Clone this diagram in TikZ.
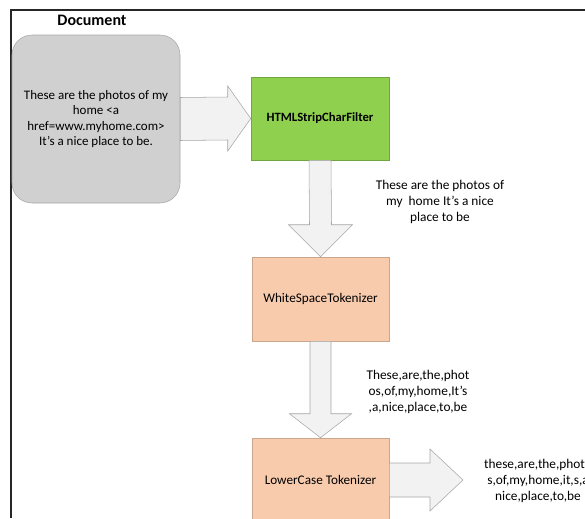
\documentclass[tikz,border=0pt]{standalone}
\usepackage{fontspec}
\setmainfont{Carlito}
\usetikzlibrary{calc}
\definecolor{docgray}{HTML}{D0D0D0}
\definecolor{docline}{HTML}{A8A8A8}
\definecolor{stripgreen}{HTML}{8FD14F}
\definecolor{stripline}{HTML}{6FA640}
\definecolor{tokpeach}{HTML}{F8CBAD}
\definecolor{tokline}{HTML}{C9A68C}
\definecolor{arrowfill}{HTML}{F2F2F2}
\definecolor{arrowline}{HTML}{A6A6A6}
\tikzset{
  docbox/.style={draw=docline, fill=docgray, rounded corners=15pt, minimum width=126pt, minimum height=126pt, align=center, font=\fontsize{9.75}{11.5}\selectfont},
  filterbox/.style={draw=stripline, fill=stripgreen, minimum width=103.5pt, minimum height=62.25pt, font=\fontsize{9.5}{11}\selectfont\bfseries},
  tokbox/.style={draw=tokline, fill=tokpeach, minimum width=103pt, minimum height=63pt, font=\fontsize{9.9}{11}\selectfont},
  blockarrow/.style={draw=arrowline, fill=arrowfill, line join=miter},
  streamtext/.style={align=center, inner sep=0pt, font=\fontsize{10}{12}\selectfont}
}
\begin{document}
\begin{tikzpicture}[x=0.75pt, y=-0.75pt]
  \useasboundingbox (0,0) rectangle (585,518);
  \clip (0,0) rectangle (585,518);
  % frame, top and left edge
  \draw[line width=1.2pt, black!85] (585,10) -- (11,10) -- (11,518);
  % the document
  \node[font=\fontsize{12}{14}\selectfont\bfseries] (doctitle) at (92,20) {Document};
  \node[docbox] (doc) at (96,119) {These are the photos of my\\home <a\\href=www.myhome.com>\\It’s a nice place to be.};
  % filter and tokenizers
  \node[filterbox] (strip) at (320,118.5) {HTMLStripCharFilter};
  \node[tokbox] (wst) at (320.5,299) {WhiteSpaceTokenizer};
  \node[tokbox] (lct) at (320.5,480) {LowerCase Tokenizer};
  \coordinate (out) at (463,480);
  % text between the steps
  \node[streamtext] (txt1) at (440,202) {These are the photos of\\my\ \ home It’s a nice\\place to be};
  \node[streamtext] (txt2) at (418,392) {These,are,the,phot\\os,of,my,home,It’s\\,a,nice,place,to,be};
  \node[streamtext] (txt3) at (538,480.5) {these,are,the,photo\\s,of,my,home,it,s,a\\nice,place,to,be};
  % block arrows
  \draw[blockarrow] ($(doc.east)+(0,-21.5)$) -- ($(strip.west)+(-23,-21.5)$) -- ($(strip.west)+(-23,-32.5)$) -- (strip.west)
    -- ($(strip.west)+(-23,32.5)$) -- ($(strip.west)+(-23,21.5)$) -- ($(doc.east)+(0,21.5)$) -- cycle;
  \draw[blockarrow] ($(strip.south)+(-11,0)$) -- ($(wst.north)+(-11,-32)$) -- ($(wst.north)+(-32,-32)$) -- (wst.north)
    -- ($(wst.north)+(32,-32)$) -- ($(wst.north)+(11,-32)$) -- ($(strip.south)+(11,0)$) -- cycle;
  \draw[blockarrow] ($(wst.south)+(-10.5,0)$) -- ($(lct.north)+(-10.5,-24)$) -- ($(lct.north)+(-31,-24)$) -- (lct.north)
    -- ($(lct.north)+(31,-24)$) -- ($(lct.north)+(10.5,-24)$) -- ($(wst.south)+(10.5,0)$) -- cycle;
  \draw[blockarrow] ($(lct.east)+(0,-17)$) -- ($(out)+(-33,-17)$) -- ($(out)+(-33,-31)$) -- (out)
    -- ($(out)+(-33,31)$) -- ($(out)+(-33,17)$) -- ($(lct.east)+(0,17)$) -- cycle;
\end{tikzpicture}
\end{document}
